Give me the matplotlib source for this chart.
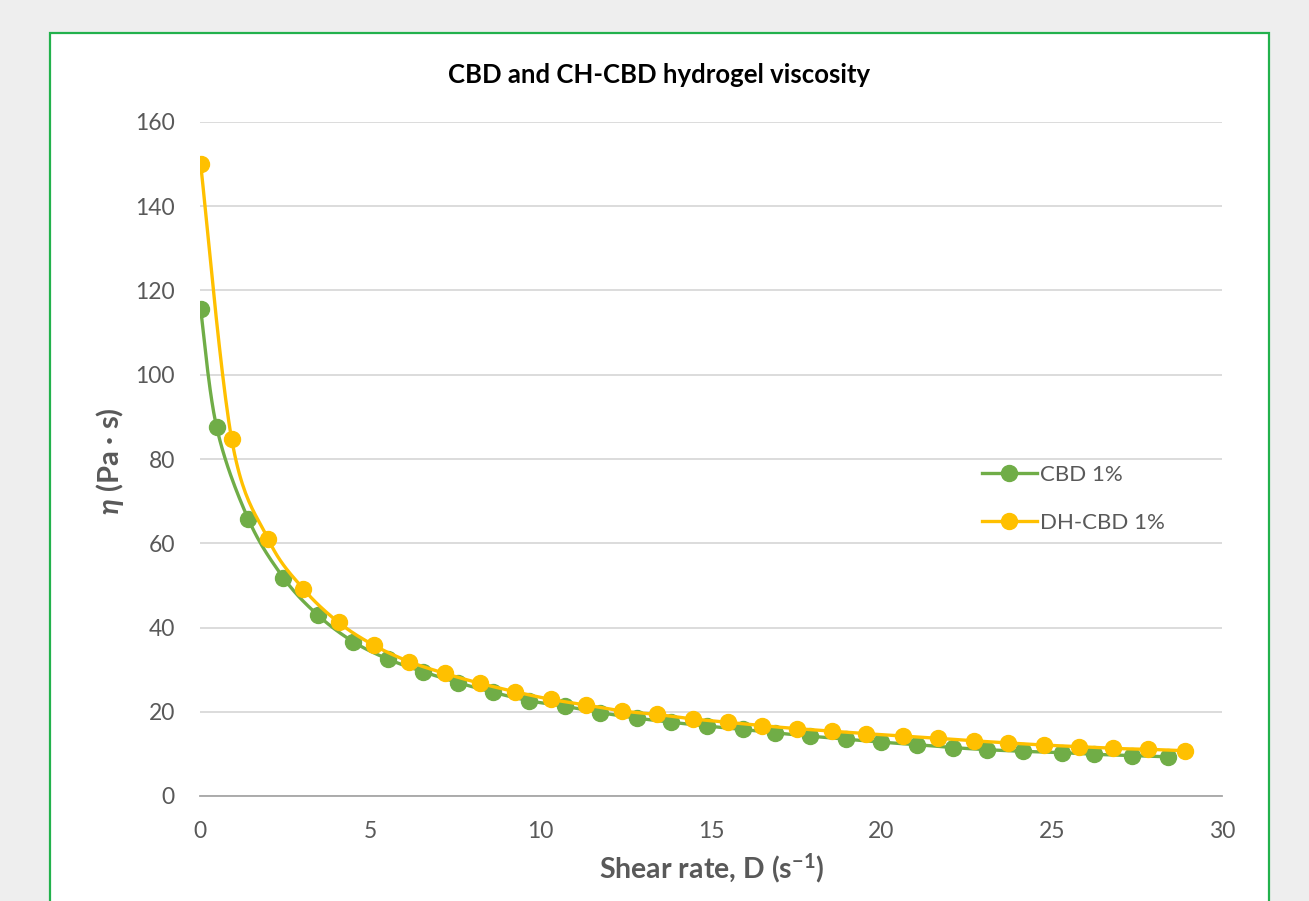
import numpy as np
import matplotlib.pyplot as plt
from matplotlib.lines import Line2D
from matplotlib.patches import Rectangle

plt.rcParams['font.family'] = ['Lato', 'DejaVu Sans']
plt.rcParams['mathtext.fontset'] = 'custom'
plt.rcParams['mathtext.rm'] = 'Lato:bold'
plt.rcParams['mathtext.it'] = 'Lato:italic:bold'

# shear rate (1/s) and viscosity (Pa s)
cbd_x = [0.02, 0.49, 1.42, 2.45, 3.45, 4.50, 5.53, 6.55, 7.58, 8.61, 9.67, 10.71,
         11.74, 12.82, 13.84, 14.89, 15.93, 16.88, 17.92, 18.96, 19.98, 21.04,
         22.09, 23.09, 24.16, 25.29, 26.25, 27.35, 28.42]
cbd_y = [115.5, 87.5, 65.7, 51.8, 43.0, 36.6, 32.45, 29.5, 26.9, 24.6, 22.6, 21.3,
         19.8, 18.5, 17.5, 16.6, 15.8, 15.0, 14.2, 13.5, 12.8, 12.2,
         11.5, 11.0, 10.6, 10.3, 9.9, 9.6, 9.3]
dh_x = [0.02, 0.93, 2.00, 3.03, 4.07, 5.10, 6.14, 7.19, 8.22, 9.25, 10.29, 11.33,
        12.38, 13.42, 14.46, 15.49, 16.49, 17.51, 18.54, 19.55, 20.64, 21.67,
        22.72, 23.72, 24.77, 25.81, 26.81, 27.83, 28.91]
dh_y = [150.0, 84.7, 61.0, 49.2, 41.2, 35.8, 31.9, 29.1, 26.75, 24.75, 22.95, 21.6,
        20.2, 19.35, 18.3, 17.5, 16.7, 16.0, 15.4, 14.8, 14.25, 13.7,
        13.1, 12.6, 12.1, 11.7, 11.3, 11.08, 10.75]

labels = ['CBD 1%', 'DH-CBD 1%']
colors = ['#70AD47', '#FFC000']


def smooth(x, y, n=24):
    # excel-like smoothed line (bezier through the points)
    p = np.column_stack([x, y]).astype(float)
    p = np.vstack([p[0], p, p[-1]])
    t = np.linspace(0, 1, n)[:, None]
    out = []
    for i in range(1, len(p) - 2):
        p0, p1, p2, p3 = p[i - 1], p[i], p[i + 1], p[i + 2]
        b1 = p1 + (p2 - p0) / 6
        b2 = p2 - (p3 - p1) / 6
        seg = ((1 - t) ** 3) * p1 + 3 * ((1 - t) ** 2) * t * b1 \
            + 3 * (1 - t) * t ** 2 * b2 + t ** 3 * p2
        out.append(seg)
    out = np.vstack(out)
    return out[:, 0], out[:, 1]


W, H = 1309, 901
fig = plt.figure(figsize=(W / 100, H / 100), dpi=100)
fig.patch.set_facecolor('#EEEEEE')
panel = Rectangle((50 / W, -0.05), 1219 / W, 1 - 33 / H + 0.05,
                  transform=fig.transFigure, facecolor='white',
                  edgecolor='#22B14C', linewidth=1.6, zorder=-1)
fig.patches.append(panel)

ax = fig.add_axes([200 / W, 1 - 796 / H, 1022 / W, 674 / H])
ax.set_facecolor('none')

for xs, ys, c in [(cbd_x, cbd_y, colors[0]), (dh_x, dh_y, colors[1])]:
    sx, sy = smooth(xs, ys)
    ax.plot(sx, sy, color=c, lw=2.4, solid_capstyle='round')
    ax.plot(xs, ys, 'o', color=c, ms=11.5, mec=c)

ax.set_xlim(0, 30)
ax.set_ylim(0, 160)
ax.set_xticks(np.arange(0, 31, 5))
ax.set_yticks(np.arange(0, 161, 20))
ax.grid(axis='y', color='#D9D9D9', lw=1.3)
ax.set_axisbelow(True)
for s in ['left', 'right', 'top']:
    ax.spines[s].set_visible(False)
ax.spines['bottom'].set_color('#A6A6A6')
ax.spines['bottom'].set_linewidth(1.3)
ax.tick_params(length=0, labelsize=16.5, labelcolor='#595959')
ax.tick_params(axis='y', pad=18)
ax.tick_params(axis='x', pad=18)

fig.text(659.5 / W, 1 - 83 / H, 'CBD and CH-CBD hydrogel viscosity', fontsize=18.5,
         fontweight='bold', color='#000000', ha='center', va='baseline')
fig.text(712 / W, 1 - 878 / H, 'Shear rate, D (s$^{-1}$)', fontsize=20.5,
         fontweight='bold', color='#595959', ha='center', va='baseline')
fig.text(110 / W, 1 - 461 / H, r'$\eta$ (Pa · s)', fontsize=21, fontweight='bold',
         color='#595959', rotation=90, ha='center', va='center')

handles = [Line2D([], [], color=c, lw=2.4, marker='o', ms=11.5) for c in colors]
ax.legend(handles, labels, loc='center left', bbox_to_anchor=(0.756, 0.441),
          frameon=False, fontsize=16, labelcolor='#595959', handlelength=2.5,
          handletextpad=0.15, labelspacing=1.25, borderaxespad=0)

fig.savefig('out.png', dpi=100, facecolor=fig.get_facecolor())
